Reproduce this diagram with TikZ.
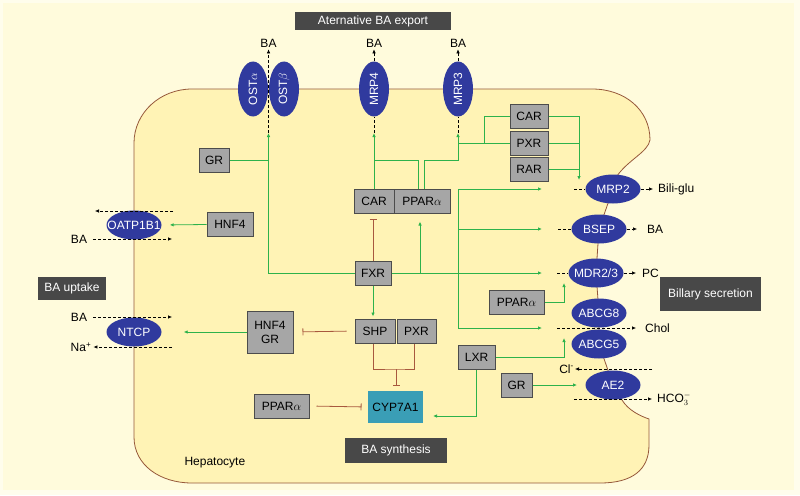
\documentclass[tikz,border=0pt]{standalone}
\usepackage{fontspec}
\setmainfont{Liberation Sans}
\usetikzlibrary{shapes.geometric,arrows.meta}
\definecolor{pageedge}{RGB}{255,253,236}
\definecolor{pagebg}{RGB}{255,251,220}
\definecolor{cellbg}{RGB}{255,243,181}
\definecolor{membrane}{RGB}{150,88,58}
\definecolor{tpblue}{RGB}{48,58,158}
\definecolor{facgrey}{RGB}{166,166,166}
\definecolor{hdrgrey}{RGB}{72,72,72}
\definecolor{cypteal}{RGB}{58,158,182}
\definecolor{actgreen}{RGB}{45,178,75}
\definecolor{inhbrown}{RGB}{168,88,62}
\begin{document}
\begin{tikzpicture}[x=1pt,y=-1pt,font=\fontsize{12}{14}\selectfont,
  fac/.style={draw=black!70,line width=1pt,fill=facgrey,minimum height=24pt,inner sep=0pt},
  hdr/.style={fill=hdrgrey,text=white,inner sep=0pt},
  tp/.style={ellipse,fill=tpblue,minimum width=55pt,minimum height=29pt,inner sep=0pt,label={[tplab]center:#1}},
  tpv/.style={ellipse,fill=tpblue,minimum width=30pt,minimum height=55pt,inner sep=0pt,label={[tplab,rotate=90]center:#1}},
  tplab/.style={text=white,inner sep=0pt},
  lab/.style={inner sep=2pt},
  act/.style={draw=actgreen,line width=.8pt,-{Latex[length=4pt,width=3.5pt]}},
  actline/.style={draw=actgreen,line width=.8pt},
  inh/.style={draw=inhbrown,line width=.8pt,-{Bar[width=7pt]}},
  inhline/.style={draw=inhbrown,line width=.8pt},
  flux/.style={draw=black,line width=.6pt,dash pattern=on 3pt off 2pt,-{Latex[length=4pt,width=3.5pt]}},
  fluxline/.style={draw=black,line width=.6pt,dash pattern=on 3pt off 2pt}]
\useasboundingbox (0,0) rectangle (800,495);
\fill[pageedge] (0,0) rectangle (800,495);
\fill[pagebg] (3,3) rectangle (794,490);

% hepatocyte
\path[draw=membrane,fill=cellbg,line width=.8pt]
  (192,89) -- (592,89) .. controls (625,89) and (650,110) .. (650,140)
  .. controls (648,152) and (628,160) .. (617,176)
  -- (613,189) -- (599,229) -- (596,273) -- (599,313) -- (599,344) -- (613,385) -- (622,400)
  .. controls (628,410) and (640,416) .. (649,419)
  -- (649,445) .. controls (649,470) and (632,483) .. (600,483)
  -- (192,483) .. controls (160,483) and (134,465) .. (134,437)
  -- (134,143) .. controls (134,113) and (160,89) .. (192,89) -- cycle;

\node[hdr,minimum width=156pt,minimum height=18pt] (export) at (373,21) {Aternative BA export};
\node[hdr,minimum width=68pt,minimum height=23pt] (uptake) at (72,288.5) {BA uptake};
\node[hdr,minimum width=102pt,minimum height=25pt] (synth) at (396,450.5) {BA synthesis};
\node[hdr,minimum width=101pt,minimum height=34pt] (secr) at (710.5,294) {Billary secretion};
\node[anchor=west] (hep) at (181,463) {Hepatocyte};

% transporters
\foreach \n/\x/\t in {ostA/253/OST$\alpha$, ostB/284/OST$\beta$, mrp4/374/MRP4, mrp3/458/MRP3}
  \node[tpv=\t] (\n) at (\x,89) {};
\foreach \n/\x/\y/\t in {oatp/134/225/OATP1B1, ntcp/134/332/NTCP, mrp2/613/189/MRP2, bsep/599/229/BSEP,
  mdr/596/273/{MDR2/3}, abcg8/599/313/ABCG8, abcg5/599/344/ABCG5, ae2/613/385/AE2}
  \node[tp=\t] (\n) at (\x,\y) {};

% nuclear receptors
\foreach \n/\x/\y/\w/\t in {grA/214/160.5/30/GR, hnfA/230/224.5/46/HNF4, carA/374/201/40/CAR,
  pparA/422/201/56/PPAR$\alpha$, carB/529/116.5/38/CAR, pxrB/529/143/38/PXR, rar/529/169.5/38/RAR,
  fxr/373/273/36/FXR, shp/375/331/40/SHP, pxrC/416.5/331/39/PXR, pparB/281.5/406/55/PPAR$\alpha$,
  lxr/476.5/357.5/37/LXR, grB/516.5/385/31/GR, pparC/516.5/302/55/PPAR$\alpha$}
  \node[fac,minimum width=\w] (\n) at (\x,\y) {\t};
\node[fac,minimum width=46pt,minimum height=42pt,align=center] (hnfgr) at (270,332) {HNF4\\GR};
\node[fac,fill=cypteal,draw=none,minimum width=55pt,minimum height=32pt] (cyp) at (395.5,407) {CYP7A1};

% substrates
\foreach \n/\x/\y/\t in {baOst/268.5/43/BA, baM4/374/43/BA, baM3/458/43/BA}
  \node[lab] (\n) at (\x,\y) {\t};
\node[lab] (baO) at (79,239) {BA};
\node[lab] (baN) at (79,317) {BA};
\node[lab] (na) at (81,347) {Na\textsuperscript{+}};
\node[lab,anchor=west] (bili) at (656,189) {Bili-glu};
\node[lab,anchor=west] (baB) at (645,229) {BA};
\node[lab,anchor=west] (pc) at (640,273) {PC};
\node[lab,anchor=west] (chol) at (643,328) {Chol};
\node[lab,anchor=east,inner sep=1pt] (cl) at (575,369) {Cl\textsuperscript{-}};
\node[lab,anchor=west] (hco) at (655,399) {HCO$_3^-$};

\coordinate (ostin) at (268.5,133);
\coordinate (mrp4in) at (374,133);
\coordinate (mrp3in) at (458,133);
\coordinate (k4) at (374,160);
\coordinate (k3) at (458,160);
\coordinate (k5) at (484,143);
\coordinate (k6) at (420,273);
\coordinate (mrp2in) at (579,180);
\coordinate (busT) at (458,189);
\coordinate (busB) at (458,328);
\coordinate (mrp2a) at (542,189);
\coordinate (bsepa) at (542,229);
\coordinate (mdra) at (542,273);
\coordinate (chola) at (542,328);
\coordinate (mdrup) at (564,283);
\coordinate (abcgup) at (564,338);
\coordinate (cypin) at (433,416);
\coordinate (ae2in) at (577,385);
\coordinate (shpbar) at (396,369);

% activation
\draw[act] (fxr.west) -| (ostin);
\draw[actline] (grA.east) -- (grA.east -| ostin);
\draw[act] (carA.north) -- (mrp4in);
\draw[actline] ([xshift=-4pt]pparA.north) |- (k4);
\draw[act] ([xshift=2pt]pparA.north) |- (k3) -- (mrp3in);
\draw[actline] (pxrB.west) -- (pxrB.west -| k3);
\draw[actline] (carB.west) -| (k5);
\draw[act] (carB.east) -| (mrp2in);
\draw[actline] (pxrB.east) -- (pxrB.east -| mrp2in);
\draw[actline] (rar.east) -- (rar.east -| mrp2in);
\draw[act] (fxr.east) -- (mdra);
\draw[act,shorten >=8pt] (k6) -- (k6 |- pparA.south);
\draw[actline] (busT) -- (busB);
\draw[act] (busT) -- (mrp2a);
\draw[act] (busT |- bsep) -- (bsepa);
\draw[act] (busB) -- (chola);
\draw[act,shorten >=2pt] (fxr.south) -- (fxr.south |- shp.north);
\draw[act,shorten >=8pt] (hnfA.west) -- (oatp.east);
\draw[act,shorten >=22pt] (hnfgr.west) -- (ntcp.east);
\draw[act] (lxr.south) |- (cypin);
\draw[act] (lxr.east) -| (abcgup);
\draw[act] (pparC.east) -| (mdrup);
\draw[act] (grB.east) -- (ae2in);

% inhibition
\draw[inh,shorten >=5pt] (fxr.north) -- (fxr.north |- carA.south);
\draw[inh,shorten <=8pt,shorten >=9pt] (shp.west) -- (hnfgr.east);
\draw[inhline] ([xshift=-2pt]shp.south) |- (shpbar) -| ([xshift=-2pt]pxrC.south);
\draw[inh,shorten >=5pt] (shpbar) -- (shpbar |- cyp.north);
\draw[inh,shorten <=7pt,shorten >=6pt] (pparB.east) -- (cyp.west);

% transport
\draw[flux] (ostin) -- (baOst);
\draw[fluxline] (mrp4in) -- (mrp4.south);
\draw[flux] (mrp4.north) -- (baM4);
\draw[fluxline] (mrp3in) -- (mrp3.south);
\draw[flux] (mrp3.north) -- (baM3);
\draw[flux] (173,211) -- (95,211);
\draw[flux,shorten <=4pt] (baO) -- (172,239);
\draw[flux,shorten <=4pt] (baN) -- (172,317);
\draw[flux] (172,347) -- (na);
\draw[fluxline] (574,189) -- (mrp2.west);
\draw[flux,shorten >=3pt] (mrp2.east) -- (bili);
\draw[fluxline] (558,229) -- (bsep.west);
\draw[flux,shorten >=8pt] (bsep.east) -- (baB);
\draw[fluxline] (557,273) -- (mdr.west);
\draw[flux,shorten >=4pt] (mdr.east) -- (pc);
\draw[flux,shorten >=7pt] (557,328) -- (chol);
\draw[flux] (652,369) -- (cl);
\draw[flux,shorten >=3pt] (574,399) -- (hco);
\end{tikzpicture}
\end{document}
